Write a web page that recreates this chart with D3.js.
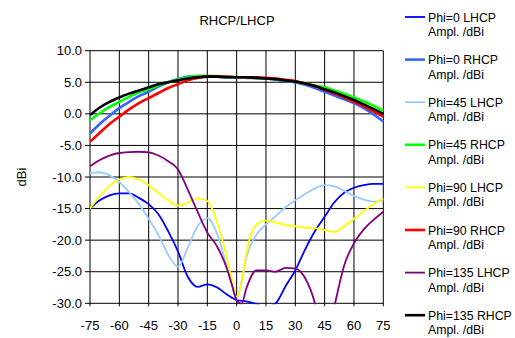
<!DOCTYPE html>
<html>
<head>
<meta charset="utf-8">
<script src="https://cdn.jsdelivr.net/npm/d3@7"></script>
<style>
  body { margin: 0; background: #fff; }
  text { font-family: "Liberation Sans", Arial, sans-serif; fill: #000; }
</style>
</head>
<body>
<svg id="chart" width="515" height="338"></svg>
<script>
// angles (deg) shared by every series
const angles = [-75,-70,-65,-60,-55,-50,-45,-40,-35,-30,-25,-20,-15,-10,-5,-2.5,0,2.5,5,10,15,20,25,30,35,40,45,50,55,60,65,70,75];

const phi0L   = [-15.0,-13.7,-12.9,-12.6,-12.6,-13.3,-14.3,-15.9,-18.6,-21.8,-25.8,-27.4,-27.0,-27.5,-28.6,-29.1,-29.5,-29.6,-29.7,-30.1,-30.6,-30.0,-27.3,-24.8,-21.5,-18.6,-16.3,-14.0,-12.5,-11.7,-11.3,-11.1,-11.1];
const phi0R   = [-3.1,-1.6,-0.3,0.9,1.9,2.8,3.5,4.3,5.0,5.5,5.9,6.0,6.0,5.9,5.8,5.8,5.8,5.8,5.7,5.7,5.6,5.4,5.2,5.0,4.6,4.1,3.5,2.9,2.3,1.7,0.9,-0.1,-1.2];
const phi45L  = [-9.4,-9.25,-9.75,-10.8,-12.4,-14.3,-16.6,-19.2,-22.3,-24.2,-21.2,-17.8,-16.5,-19.0,-24.2,-27.0,-29.4,-26.5,-22.7,-19.2,-17.5,-16.2,-14.8,-13.7,-12.7,-11.8,-11.3,-11.5,-12.2,-13.0,-13.6,-13.9,-13.7];
const phi45R  = [-1.0,0.1,1.1,1.9,2.7,3.4,3.9,4.5,5.0,5.4,5.8,6.0,6.0,6.0,5.9,5.85,5.8,5.8,5.8,5.7,5.6,5.5,5.3,5.1,4.8,4.5,4.2,3.7,3.2,2.6,2.0,1.3,0.5];
const phi90L  = [-15.0,-13.0,-11.4,-10.4,-10.0,-10.4,-11.3,-12.5,-13.7,-14.5,-14.1,-13.4,-13.8,-17.2,-22.8,-26.2,-29.0,-26.8,-22.0,-17.6,-16.9,-17.2,-17.6,-17.8,-18.0,-18.1,-18.4,-18.7,-17.8,-16.6,-15.4,-14.3,-13.4];
const phi90R  = [-4.4,-3.0,-1.6,-0.45,0.7,1.7,2.5,3.3,4.1,4.7,5.3,5.7,5.9,5.9,5.9,5.85,5.8,5.8,5.8,5.8,5.7,5.6,5.4,5.2,4.8,4.4,3.8,3.2,2.6,1.9,1.2,0.4,-0.45];
const phi135L = [-8.3,-7.3,-6.6,-6.2,-6.05,-6.0,-6.1,-6.6,-7.5,-8.8,-12.0,-15.5,-18.8,-21.0,-24.5,-27.0,-29.5,-30.1,-27.6,-24.8,-24.8,-25.0,-24.4,-24.5,-26.0,-30.0,-38.0,-30.5,-24.0,-20.5,-18.3,-16.8,-15.5];
const phi135R = [-0.2,1.0,1.9,2.6,3.2,3.7,4.2,4.7,5.0,5.3,5.6,5.8,5.9,5.9,5.8,5.8,5.8,5.8,5.8,5.7,5.6,5.5,5.3,5.1,4.8,4.4,3.9,3.4,2.8,2.2,1.5,0.8,0.0];

const seriesNames = ["Phi=0 LHCP","Phi=0 RHCP","Phi=45 LHCP","Phi=45 RHCP","Phi=90 LHCP","Phi=90 RHCP","Phi=135 LHCP","Phi=135 RHCP"];
const seriesValues = [phi0L, phi0R, phi45L, phi45R, phi90L, phi90R, phi135L, phi135R];
const seriesColors = ["#0000ff","#3366ff","#99ccff","#00ff00","#ffff00","#ff0000","#800080","#000000"];

const xTicks = [-75,-60,-45,-30,-15,0,15,30,45,60,75];
const yTicks = [10,5,0,-5,-10,-15,-20,-25,-30];

const svg = d3.select("#chart");

const pLeft = 90, pRight = 383.3, pTop = 50.7, pBottom = 303.3;

const x = d3.scaleLinear().domain([-75, 75]).range([pLeft, pRight]);
const y = d3.scaleLinear().domain([-30, 10]).range([pBottom, pTop]);

svg.append("defs").append("clipPath").attr("id", "plotclip")
  .append("rect")
  .attr("x", pLeft).attr("y", pTop - 2)
  .attr("width", pRight - pLeft + 2).attr("height", pBottom - pTop + 3);

// grid
const grid = svg.append("g");
grid.selectAll(".vg").data(xTicks).enter().append("line")
  .attr("x1", d => x(d)).attr("x2", d => x(d))
  .attr("y1", pTop).attr("y2", pBottom + 3)
  .attr("stroke", "#000").attr("stroke-width", 1);
grid.selectAll(".hg").data(yTicks).enter().append("line")
  .attr("x1", pLeft - 5).attr("x2", pRight)
  .attr("y1", d => y(d)).attr("y2", d => y(d))
  .attr("stroke", "#000").attr("stroke-width", 1);

// axis labels
svg.append("g").selectAll("text").data(yTicks).enter().append("text")
  .attr("x", pLeft - 8).attr("y", d => y(d) + 4.5)
  .attr("text-anchor", "end").attr("font-size", 13)
  .text(d => d.toFixed(1));

svg.append("g").selectAll("text").data(xTicks).enter().append("text")
  .attr("x", d => x(d)).attr("y", 330)
  .attr("text-anchor", "middle").attr("font-size", 13)
  .text(d => d);

svg.append("text")
  .attr("x", 237).attr("y", 25)
  .attr("text-anchor", "middle").attr("font-size", 13)
  .text("RHCP/LHCP");

svg.append("text")
  .attr("transform", "translate(26,177) rotate(-90)")
  .attr("text-anchor", "middle").attr("font-size", 13)
  .text("dBi");

// lines
const line = d3.line()
  .x((d, i) => x(angles[i]))
  .y(d => y(d))
  .curve(d3.curveMonotoneX);

const plot = svg.append("g").attr("clip-path", "url(#plotclip)");
seriesValues.forEach(function(vals, i) {
  plot.append("path")
    .datum(vals)
    .attr("d", line)
    .attr("fill", "none")
    .attr("stroke", seriesColors[i])
    .attr("stroke-width", i % 2 == 1 ? 2.6 : 1.8);
});

// legend
const legend = svg.append("g");
seriesNames.forEach(function(name, i) {
  const ly = 17 + i * 42.6;
  legend.append("line")
    .attr("x1", 405).attr("x2", 425)
    .attr("y1", ly).attr("y2", ly)
    .attr("stroke", seriesColors[i])
    .attr("stroke-width", i % 2 == 1 ? 2.6 : 1.8);
  legend.append("text")
    .attr("x", 428).attr("y", ly + 4.5)
    .attr("font-size", 12.3)
    .text(name);
  legend.append("text")
    .attr("x", 428).attr("y", ly + 19)
    .attr("font-size", 12.3)
    .text("Ampl. /dBi");
});
</script>
</body>
</html>
